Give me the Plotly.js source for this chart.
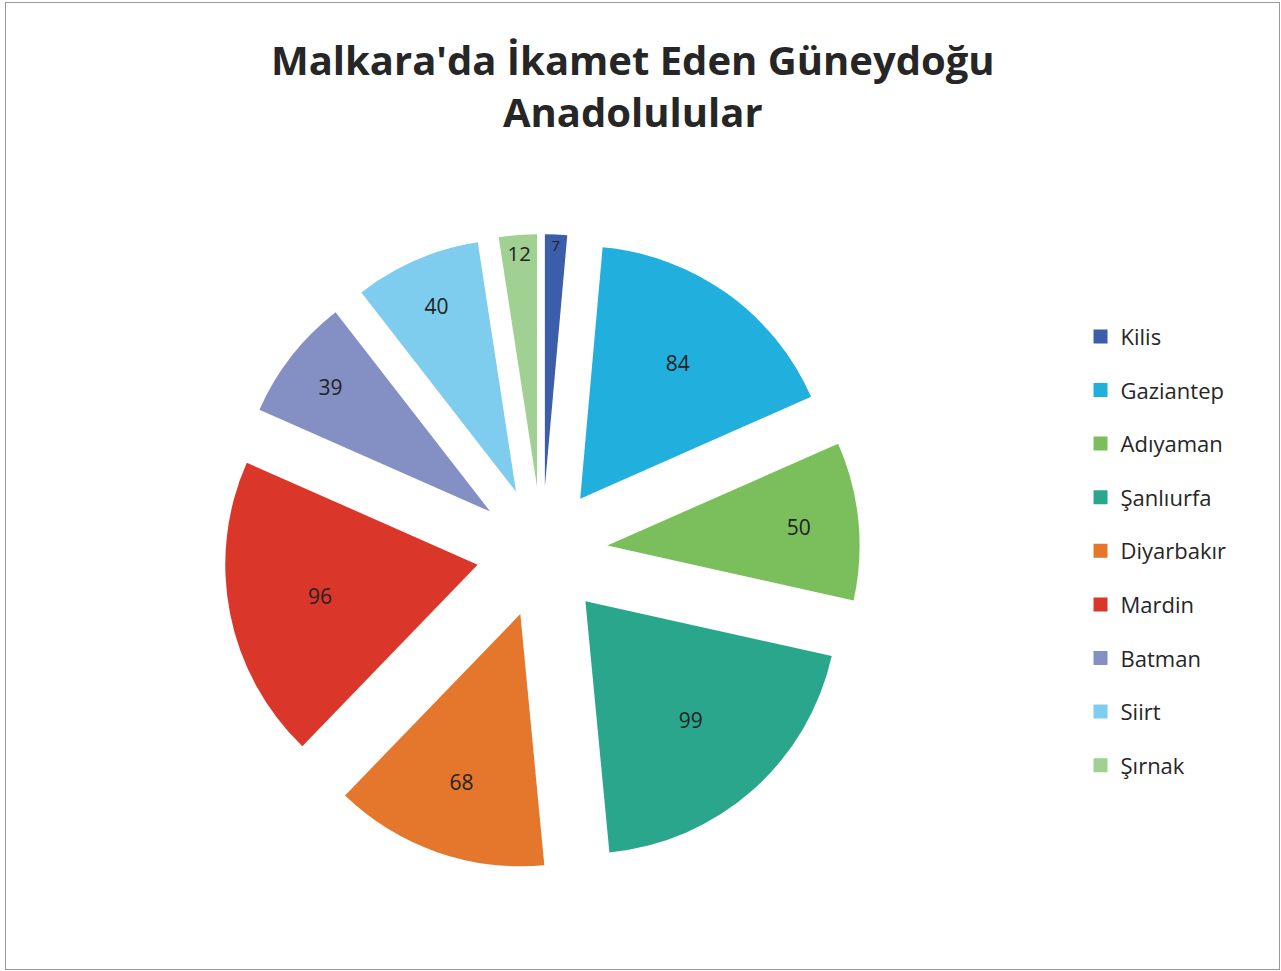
<!DOCTYPE html>
<html>
<head>
<meta charset="utf-8">
<script src="https://cdn.plot.ly/plotly-3.0.1.min.js"></script>
<style>
  html, body { margin: 0; padding: 0; background: #fff; }
  #chart { width: 1281px; height: 971px; }
  #frame { position: absolute; left: 5px; top: 2px; width: 1273px; height: 966px; border: 1px solid #999; pointer-events: none; }
</style>
</head>
<body>
<div id="chart"></div>
<div id="frame"></div>
<script>
const titleText = "Malkara'da İkamet Eden Güneydoğu<br>Anadolulular";
const categories = ["Kilis", "Gaziantep", "Adıyaman", "Şanlıurfa", "Diyarbakır", "Mardin", "Batman", "Siirt", "Şırnak"];
const values = [7, 84, 50, 99, 68, 96, 39, 40, 12];
const colors = ["#3C5DAA", "#21B0DD", "#7BBF5C", "#2AA68D", "#E4772C", "#DB362A", "#8490C4", "#7ECDEE", "#A0D092"];

const FONT = "Open Sans, Noto Sans, sans-serif";

const pie = {
  type: "pie",
  labels: categories,
  values: values,
  sort: false,
  direction: "clockwise",
  rotation: 0,
  pull: categories.map(() => 0.26),
  marker: { colors: colors, line: { width: 0 } },
  textinfo: "value",
  textposition: "inside",
  insidetextorientation: "horizontal",
  insidetextfont: { family: FONT, size: 21, color: "#222" },
  showlegend: false,
  hoverinfo: "label+value",
  domain: { x: [0.1749, 0.6713], y: [0.104, 0.759] }
};

const legendTraces = categories.map((c, i) => ({
  type: "scatter",
  mode: "markers",
  x: [null],
  y: [null],
  name: c,
  legendgroup: "g" + i,
  marker: { symbol: "square", size: 14, color: colors[i] },
  showlegend: true,
  hoverinfo: "skip"
}));

const layout = {
  width: 1281,
  height: 971,
  margin: { l: 0, r: 0, t: 0, b: 0 },
  paper_bgcolor: "#fff",
  plot_bgcolor: "rgba(0,0,0,0)",
  title: {
    text: titleText,
    font: { family: FONT, size: 40, color: "#262626", weight: "bold" },
    x: 0.494,
    xanchor: "center",
    y: 0.923,
    yanchor: "top"
  },
  xaxis: { visible: false, domain: [0.9, 0.91] },
  yaxis: { visible: false, domain: [0.9, 0.91] },
  showlegend: true,
  legend: {
    x: 0.8435,
    xanchor: "left",
    y: 0.675,
    yanchor: "top",
    font: { family: FONT, size: 22, color: "#262626" },
    tracegroupgap: 22,
    itemwidth: 30,
    bgcolor: "rgba(0,0,0,0)",
    borderwidth: 0
  }
};

Plotly.newPlot("chart", [pie].concat(legendTraces), layout, { displayModeBar: false, staticPlot: true });
</script>
</body>
</html>
